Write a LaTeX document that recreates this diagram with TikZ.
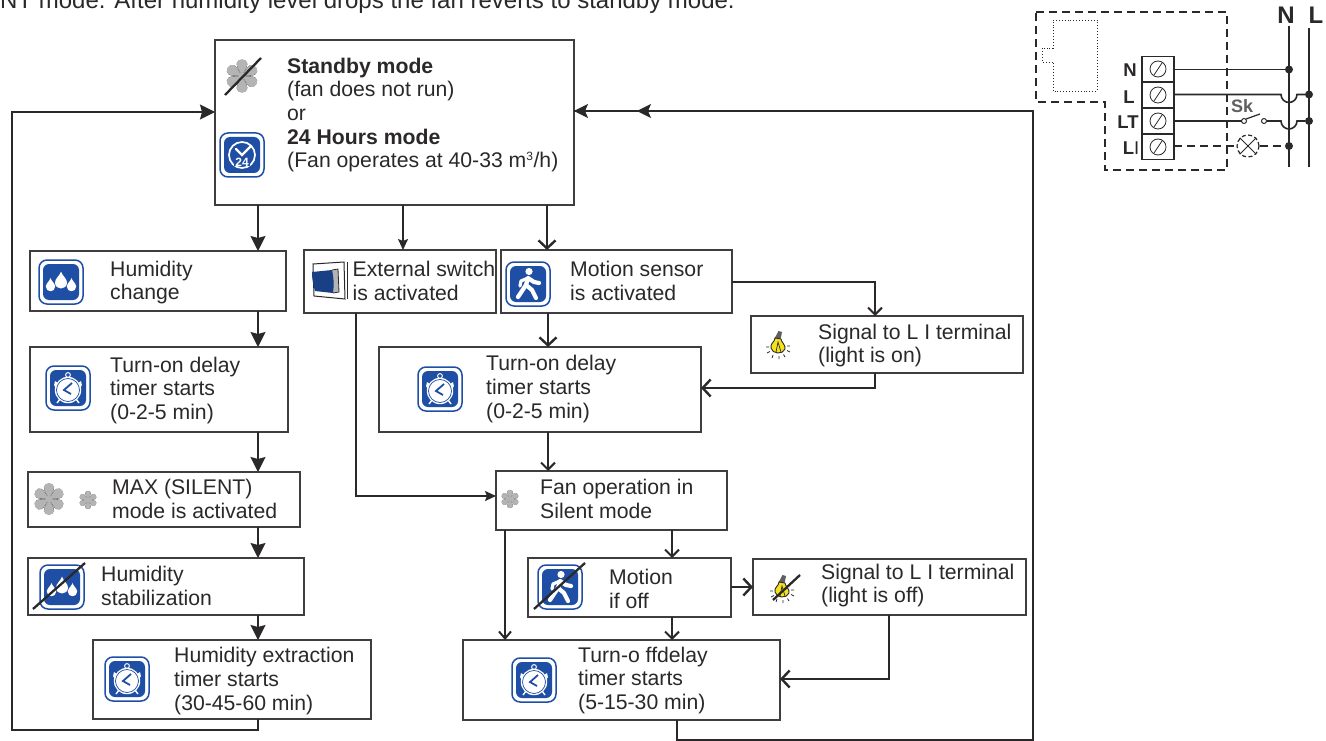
\documentclass[tikz,border=0pt]{standalone}
\usepackage{fontspec}
\setmainfont{Liberation Sans}
\usetikzlibrary{arrows.meta,calc}
\definecolor{iconblue}{HTML}{1F4FA5}
\definecolor{ink}{HTML}{2B2829}
\definecolor{fangrey}{HTML}{B4B4B4}
\definecolor{bulbyellow}{HTML}{F5E11E}
\tikzset{
  box/.style={draw=ink!90,line width=1.5pt,fill=white,inner sep=0pt,outer sep=0pt},
  txt/.style={anchor=west,align=left,inner sep=0pt,text=ink,font=\fontsize{21.2}{23.6}\selectfont},
  conn/.style={draw=ink,line width=1.6pt},
  solidarr/.style={conn,-{Stealth[length=15pt,width=15pt,inset=2pt]}},
  smallarr/.style={conn,-{Stealth[length=11pt,width=10pt,inset=2pt]}},
  barbarr/.style={conn,-{Straight Barb[length=8pt,width=17pt,line width=2.4pt]}},
  barbsmall/.style={conn,-{Straight Barb[length=7pt,width=14pt,line width=2pt]}},
  wire/.style={draw=ink,line width=1.6pt},
  wiredash/.style={draw=ink,line width=1.2pt,dash pattern=on 8pt off 5pt},
  termbox/.style={draw=ink,line width=1.2pt,fill=white,minimum width=32pt,minimum height=25.5pt,inner sep=0pt,outer sep=0pt},
  termlab/.style={inner sep=0pt,text=ink,font=\fontsize{18.5}{20}\bfseries\selectfont},
  dotj/.style={fill=ink,circle,inner sep=0pt,minimum size=8pt},
  fanicon/.pic={
    \foreach \a in {0,60,...,300}{
      \fill[fangrey!50!black,rotate=\a,shift={(0,0.5)}] (-0.8,-1) .. controls (-1.4,-5) and (-5.4,-8) .. (-5.4,-12.5) .. controls (-5.4,-18.4) and (5.4,-18.4) .. (5.4,-12.5) .. controls (5.4,-8) and (1.4,-5) .. (0.8,-1) -- cycle;
    }
    \foreach \a in {0,60,...,300}{
      \fill[fangrey,rotate=\a] (-0.8,-1) .. controls (-1.4,-5) and (-5.2,-8) .. (-5.2,-12.5) .. controls (-5.2,-18) and (5.2,-18) .. (5.2,-12.5) .. controls (5.2,-8) and (1.4,-5) .. (0.8,-1) -- cycle;
    }
    \fill[fangrey] (0,0) circle (3.5);
  },
  iconframe/.pic={
    \draw[iconblue,line width=1.5pt,fill=white,rounded corners=8pt] (-22,-22) rectangle (22,22);
    \fill[iconblue,rounded corners=6pt] (-18,-18) rectangle (18,18);
  },
  dropsicon/.pic={
    \pic {iconframe};
    \foreach \x/\y/\s in {-10.5/3/0.78,0/-1.5/1,10.5/3/0.78}{
      \begin{scope}[shift={(\x,\y)},scale=\s]
        \fill[white] (0,-9) .. controls (1,-5) and (6,-2) .. (6,2) .. controls (6,6) and (3,8) .. (0,8) .. controls (-3,8) and (-6,6) .. (-6,2) .. controls (-6,-2) and (-1,-5) .. cycle;
      \end{scope}
    }
  },
  walkicon/.pic={
    \pic {iconframe};
    \fill[white] (1,-12.5) circle (3.6);
    \draw[white,line width=4.2pt,line cap=round,line join=round] (-10,13) -- (-2,1) -- (0,-6) -- (6,-2) -- (11,-1);
    \draw[white,line width=4.2pt,line cap=round,line join=round] (-2,1) -- (4,6) -- (8,14);
    \draw[white,line width=3.2pt,line cap=round,line join=round] (0,-6) -- (-7,-3) -- (-8,2);
  },
  alarmicon/.pic={
    \pic {iconframe};
    \fill[white] (-13,-7) arc[start angle=215,end angle=35,radius=5.5] -- cycle;
    \fill[white] (13,-7) arc[start angle=-35,end angle=145,radius=5.5] -- cycle;
    \draw[white,line width=1pt] (0,-13) circle (2.4);
    \draw[white,line width=1.4pt] (-8,11) -- (-11,15) (8,11) -- (11,15);
    \fill[white] (0,2) circle (13.2);
    \draw[iconblue,line width=.7pt] (0,2) circle (11.5);
    \draw[iconblue,line width=1.8pt] (4,-5) -- (-4,2) -- (3,6);
  },
  clockicon/.pic={
    \pic {iconframe};
    \draw[white,line width=1.7pt] (0,0) circle (13);
    \draw[white,line width=2.3pt,line cap=round] (-6,-6) -- (0,0) -- (8,-8);
    \fill[iconblue] (-8,2) rectangle (8,11);
    \node[inner sep=0pt,text=white,font=\fontsize{12}{13}\bfseries\selectfont] (clocktext) at (0,7) {24};
  },
  bulbicon/.pic={
    \fill[ink!75] (0.5,-14) -- (4,-13) -- (2.6,-6) -- (-3.2,-7) -- cycle;
    \draw[ink,line width=.9pt,fill=bulbyellow] (-3,-7) .. controls (-3,-3) and (-8,-2) .. (-7,3) .. controls (-6,9) and (5,10) .. (7,4) .. controls (8,0) and (3,-3) .. (3,-6) -- cycle;
    \draw[ink,line width=.7pt] (-2,7) -- (0,-3) -- (3,7);
    \draw[ink,line width=.8pt] (-12,2) -- (-9,2) (-11,8) -- (-8,6.5) (-6,13) -- (-5,10) (1,14) -- (1,11) (7,12) -- (5.5,9.5) (12,7) -- (9,5.5) (12,1) -- (9,1);
  },
  switchicon/.pic={
    \draw[ink,line width=1pt,fill=white] (-19,-15) -- (12,-17) -- (13,20) -- (-18,17) -- cycle;
    \draw[ink,line width=.8pt] (15.5,-17) -- (15.5,20);
    \fill[ink!35] (0,-9) -- (6,-10) -- (7,13) -- (1,14) -- cycle;
    \fill[iconblue!80!black] (-20,-7) -- (0,-9) .. controls (2,0) and (2,7) .. (1,14) -- (-17,12) .. controls (-19,5) and (-20,0) .. cycle;
    \draw[ink,line width=.8pt] (0,-9) -- (6,-10) -- (7,13) -- (1,14);
  },
  slash/.style={draw=ink,line width=2.3pt}
}
\begin{document}
\begin{tikzpicture}[x=1pt,y=-1pt]
\useasboundingbox (0,0) rectangle (1326,741);
\fill[white] (0,0) rectangle (1326,741);

\node[txt,anchor=base west,font=\fontsize{24}{26}\selectfont] (intro) at (0,9) {NT mode. After humidity level drops the fan reverts to standby mode.};

% Boxes
\node[box,minimum width=359pt,minimum height=165pt] (standby) at (394.5,122.5) {};
\node[box,minimum width=256pt,minimum height=60pt] (hum) at (158,281) {};
\node[box,minimum width=192pt,minimum height=63pt] (ext) at (400,281.5) {};
\node[box,minimum width=231pt,minimum height=63pt] (motion) at (616.5,281.5) {};
\node[box,minimum width=272pt,minimum height=57pt] (sigon) at (887,344.5) {};
\node[box,minimum width=258pt,minimum height=85pt] (tonA) at (159,389.5) {};
\node[box,minimum width=322pt,minimum height=85pt] (tonB) at (540,389.5) {};
\node[box,minimum width=272pt,minimum height=55pt] (maxm) at (164,499.5) {};
\node[box,minimum width=231pt,minimum height=59pt] (fanop) at (611.5,500.5) {};
\node[box,minimum width=276pt,minimum height=57pt] (stab) at (166,586.5) {};
\node[box,minimum width=203pt,minimum height=59pt] (motoff) at (629.5,587.5) {};
\node[box,minimum width=273pt,minimum height=56pt] (sigoff) at (889.5,587) {};
\node[box,minimum width=278pt,minimum height=79pt] (extract) at (232,679.5) {};
\node[box,minimum width=317pt,minimum height=80pt] (toff) at (621.5,680) {};

% Box texts
\node[txt] (standbytxt) at (287,115) {\textbf{Standby mode}\\(fan does not run)\\or\\\textbf{24 Hours mode}\\(Fan operates at 40-33 m\textsuperscript{\fontsize{12}{12}\selectfont 3}/h)};
\node[txt] (humtxt) at (110,282.5) {Humidity\\change};
\node[txt] (exttxt) at (352.5,281) {External switch\\is activated};
\node[txt] (motiontxt) at (570,281) {Motion sensor\\is activated};
\node[txt] (sigontxt) at (818,345.5) {Signal to L I terminal\\(light is on)};
\node[txt] (tonAtxt) at (110,390.5) {Turn-on delay\\timer starts\\(0-2-5 min)};
\node[txt] (tonBtxt) at (486,389) {Turn-on delay\\timer starts\\(0-2-5 min)};
\node[txt] (maxtxt) at (112,499) {MAX (SILENT)\\mode is activated};
\node[txt] (fantxt) at (540,499) {Fan operation in\\Silent mode};
\node[txt] (stabtxt) at (101,586) {Humidity\\stabilization};
\node[txt] (motofftxt) at (609,589) {Motion\\if off};
\node[txt] (sigofftxt) at (821,585.5) {Signal to L I terminal\\(light is off)};
\node[txt] (extracttxt) at (174,681) {Humidity extraction\\timer starts\\(30-45-60 min)};
\node[txt] (tofftxt) at (578,680.5) {Turn-o ffdelay\\timer starts\\(5-15-30 min)};

% Icons
\pic at (242,76) {fanicon};
\draw[slash] (225,95) -- (261,58);
\pic at (242,155) {clockicon};
\pic at (61,282) {dropsicon};
\pic at (332,279) {switchicon};
\pic at (528,284) {walkicon};
\pic at (778,345) {bulbicon};
\pic at (68,388) {alarmicon};
\pic at (440,389) {alarmicon};
\pic[scale=0.95] at (49,499) {fanicon};
\pic[scale=0.55] at (88,500) {fanicon};
\pic[scale=0.55] at (510,499) {fanicon};
\pic at (62,587) {dropsicon};
\draw[slash] (33,609) -- (85,563);
\pic at (560,587) {walkicon};
\draw[slash] (534,609) -- (585,563);
\pic at (782,589) {bulbicon};
\draw[slash] (773,600) -- (800,575);
\pic at (127,679) {alarmicon};
\pic at (534,680) {alarmicon};

% Connectors
\draw[solidarr] (258,0 |- standby.south) -- (258,0 |- hum.north);
\draw[smallarr] (403,0 |- standby.south) -- (403,0 |- ext.north);
\draw[barbarr] (547,0 |- standby.south) -- (547,0 |- motion.north);
\draw[solidarr] (258,0 |- hum.south) -- (258,0 |- tonA.north);
\draw[solidarr] (258,0 |- tonA.south) -- (258,0 |- maxm.north);
\draw[solidarr] (258,0 |- maxm.south) -- (258,0 |- stab.north);
\draw[solidarr] (258,0 |- stab.south) -- (258,0 |- extract.north);
\draw[solidarr] (258,0 |- extract.south) -- (258,730) -- (12,730) -- (12,112) -- (0,112 -| standby.west);
\draw[smallarr] (356,0 |- ext.south) -- (356,496) -- (0,496 -| fanop.west);
\draw[barbarr] (548,0 |- motion.south) -- (548,0 |- tonB.north);
\draw[barbsmall] (0,282 -| motion.east) -- (875,282) -- (875,0 |- sigon.north);
\draw[barbarr] (875,0 |- sigon.south) -- (875,388) -- (0,388 -| tonB.east);
\draw[barbsmall] (548,0 |- tonB.south) -- (548,0 |- fanop.north);
\draw[barbsmall] (672,0 |- fanop.south) -- (672,0 |- motoff.north);
\draw[conn,-{Straight Barb[length=7pt,width=12pt,line width=2pt]}] (505,0 |- fanop.south) -- (505,0 |- toff.north);
\draw[barbsmall] (672,0 |- motoff.south) -- (672,0 |- toff.north);
\draw[barbarr] (motoff.east |- 0,587) -- (sigoff.west |- 0,587);
\draw[barbarr] (889,0 |- sigoff.south) -- (889,679) -- (0,679 -| toff.east);
\draw[conn] (677,0 |- toff.south) -- (677,740) -- (1033,740) -- (1033,111) -- (0,111 -| standby.east);
\draw[conn,-{Stealth[length=14pt,width=14pt,inset=3pt]}] (1033,111) -- (0,111 -| standby.east);
\draw[conn,-{Stealth[length=14pt,width=14pt,inset=3pt]}] (1033,111) -- (637,111);

% Wiring diagram
\draw[wiredash] (1036,12) -- (1227,12) -- (1227,170) -- (1105,170) -- (1105,102) -- (1036,102) -- cycle;
\draw[ink,line width=.9pt,dotted] (1053,20) -- (1097,20) -- (1097,91) -- (1053,91) -- (1053,62) -- (1042,62) -- (1042,48) -- (1053,48) -- cycle;
\node[termbox] (tN) at (1158,69) {};
\node[termbox] (tL) at (1158,95) {};
\node[termbox] (tLT) at (1158,121) {};
\node[termbox] (tLI) at (1158,147) {};
\foreach \n in {tN,tL,tLT,tLI}{
  \draw[ink,line width=.8pt] (\n.center) circle (8);
  \draw[ink,line width=.8pt] ($(\n.center)+(-4,6)$) -- ($(\n.center)+(4,-6)$);
}
\node[termlab] (lbN) at (1130,70) {N};
\node[termlab] (lbL) at (1129,97) {L};
\node[termlab] (lbLT) at (1128,122) {LT};
\node[termlab] (lbLI) at (1131,148) {L\textmd{I}};
\node[inner sep=0pt,text=ink,font=\fontsize{24}{26}\bfseries\selectfont] (busNlab) at (1286,15) {N};
\node[inner sep=0pt,text=ink,font=\fontsize{24}{26}\bfseries\selectfont] (busLlab) at (1316,15) {L};
\coordinate (busNtop) at (1289,26);
\coordinate (busNbot) at (1289,167);
\coordinate (busLtop) at (1309,28);
\coordinate (busLbot) at (1309,167);
\draw[wire] (busNtop) -- (busNbot);
\draw[wire] (busLtop) -- (busLbot);
\node[dotj] (jN) at (1289,69.5) {};
\node[dotj] (jL) at (1309,94.5) {};
\node[dotj] (jLT) at (1309,121) {};
\node[dotj] (jLI) at (1289,146) {};
\draw[wire] (tN.east |- jN) -- (jN);
\draw[wire] (tL.east |- jL) -- (1281,94.5) arc[start angle=180,end angle=0,radius=8] -- (jL);
\coordinate (swA) at (1244,121);
\coordinate (swB) at (1264,121);
\draw[wire] (tLT.east |- jLT) -- (1241.5,121);
\draw[wire] (1266.5,121) -- (1281,121) arc[start angle=180,end angle=0,radius=8] -- (jLT);
\draw[ink,line width=1pt] (swA) circle (2.5) (swB) circle (2.5);
\draw[ink,line width=1.2pt] (1246,119) -- (1260,114);
\node[inner sep=0pt,text=ink!75,font=\fontsize{18}{20}\bfseries\selectfont] (sklab) at (1242,106) {Sk};
\node[circle,minimum size=22pt,inner sep=0pt,draw=ink,line width=1.2pt,dash pattern=on 4pt off 2.5pt] (lamp) at (1248,146) {};
\draw[ink,line width=.9pt] (lamp.45) -- (lamp.225) (lamp.135) -- (lamp.315);
\draw[wiredash] (tLI.east |- lamp) -- (lamp.west);
\draw[wiredash] (lamp.east) -- (jLI);
\end{tikzpicture}
\end{document}
